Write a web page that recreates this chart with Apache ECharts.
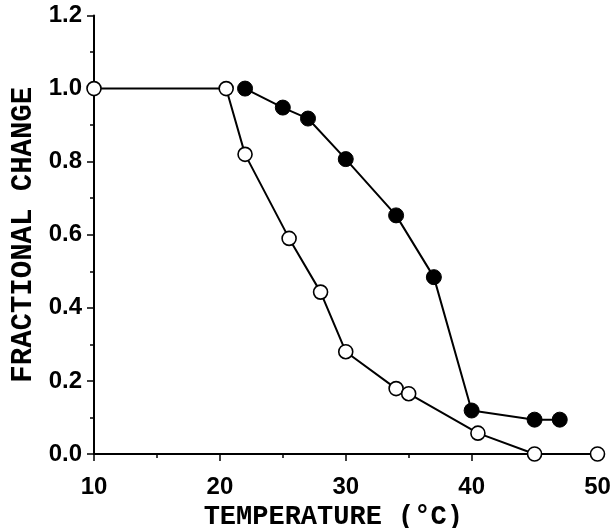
<!DOCTYPE html>
<html>
<head>
<meta charset="utf-8">
<script src="https://cdn.jsdelivr.net/npm/echarts@6/dist/echarts.min.js"></script>
<style>
  html, body { margin: 0; padding: 0; background: #fff; }
  #chart { width: 614px; height: 528px; }
</style>
</head>
<body>
<div id="chart"></div>
<script>
// open circles
const openTemp = [10, 20.5, 22, 25.5, 28, 30, 34, 35, 40.5, 45, 50]
const openFrac = [1.0, 1.0, 0.82, 0.59, 0.443, 0.28, 0.179, 0.165, 0.057, 0, 0]
// filled circles
const filledTemp = [22, 25, 27, 30, 34, 37, 40, 45, 47]
const filledFrac = [1.0, 0.948, 0.918, 0.807, 0.653, 0.484, 0.119, 0.094, 0.094]

const xTitle = 'TEMPERATURE (°C)'
const yTitle = 'FRACTIONAL CHANGE'

let openData = []
for (let i = 0; i < openTemp.length; i++) {
  openData.push([openTemp[i], openFrac[i]])
}
let filledData = []
for (let i = 0; i < filledTemp.length; i++) {
  filledData.push([filledTemp[i], filledFrac[i]])
}

const labelFont = {
  fontFamily: 'Liberation Sans',
  fontWeight: 'bold',
  fontSize: 24,
  color: '#000'
}

const option = {
  animation: false,
  backgroundColor: '#fff',
  grid: {
    left: 94,
    right: 16.5,
    top: 15.5,
    bottom: 74,
    containLabel: false,
    outerBoundsMode: 'none'
  },
  xAxis: {
    type: 'value',
    min: 10,
    max: 50,
    interval: 10,
    name: xTitle,
    nameLocation: 'middle',
    nameGap: 47,
    nameTextStyle: {
      fontFamily: 'Liberation Mono',
      fontWeight: 'bold',
      fontSize: 27,
      color: '#000',
      padding: [0, 25, 0, 0]
    },
    axisLine: {lineStyle: {color: '#000', width: 2}},
    axisTick: {length: 7, lineStyle: {color: '#000', width: 1.5}},
    minorTick: {show: true, splitNumber: 2, length: 4, lineStyle: {color: '#000', width: 1.5}},
    splitLine: {show: false},
    axisLabel: Object.assign({margin: 21}, labelFont)
  },
  yAxis: {
    type: 'value',
    min: 0,
    max: 1.2,
    interval: 0.2,
    name: yTitle,
    nameLocation: 'middle',
    nameGap: 56,
    nameTextStyle: {
      fontFamily: 'Liberation Mono',
      fontWeight: 'bold',
      fontSize: 29,
      color: '#000'
    },
    axisLine: {show: true, lineStyle: {color: '#000', width: 2}},
    axisTick: {show: true, length: 7, lineStyle: {color: '#000', width: 1.5}},
    minorTick: {show: true, splitNumber: 2, length: 4, lineStyle: {color: '#000', width: 1.5}},
    splitLine: {show: false},
    axisLabel: Object.assign({margin: 12, formatter: v => v.toFixed(1)}, labelFont)
  },
  series: [
    {
      type: 'line',
      data: filledData,
      clip: false,
      symbol: 'circle',
      symbolSize: 15,
      lineStyle: {color: '#000', width: 2},
      itemStyle: {color: '#000', borderColor: '#000', borderWidth: 1},
      z: 2
    },
    {
      type: 'line',
      data: openData,
      clip: false,
      symbol: 'circle',
      symbolSize: 14,
      showAllSymbol: true,
      lineStyle: {color: '#000', width: 2},
      itemStyle: {color: '#fff', borderColor: '#000', borderWidth: 1.6},
      z: 3
    }
  ]
}

const myChart = echarts.init(document.getElementById('chart'))
myChart.setOption(option)
</script>
</body>
</html>
